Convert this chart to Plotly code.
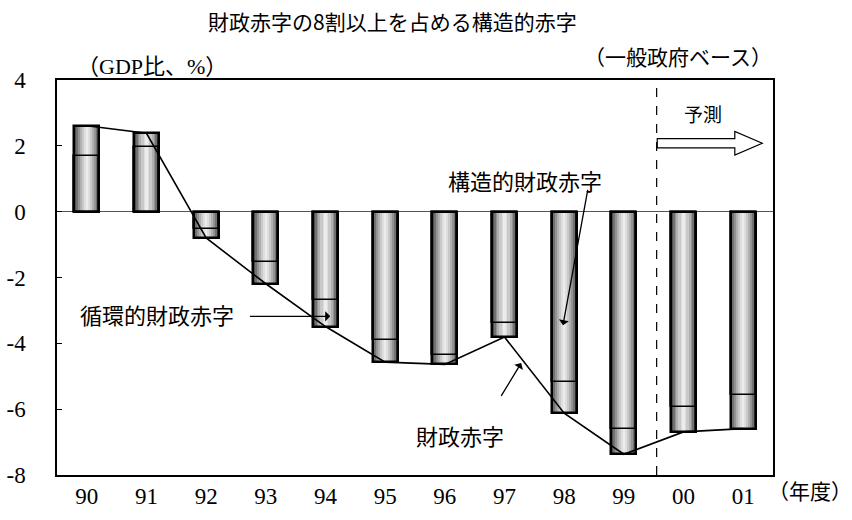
import plotly.graph_objects as go

years = ["90", "91", "92", "93", "94", "95", "96", "97", "98", "99", "00", "01"]
fiscal_balance = [2.61, 2.38, -0.80, -2.19, -3.49, -4.57, -4.64, -3.81, -6.12, -7.37, -6.69, -6.59]
structural = [1.69, 1.97, -0.54, -1.53, -2.67, -3.91, -4.36, -3.38, -5.17, -6.59, -5.93, -5.56]
cyclical = [round(t - s, 2) for t, s in zip(fiscal_balance, structural)]
y_ticks = [4, 2, 0, -2, -4, -6, -8]

xs = list(range(len(years)))
serif = "Liberation Serif, Noto Sans CJK JP"
cjk = "Noto Sans CJK JP"

fig = go.Figure()

# cylinder-like gradient layers
layers = [(0.42, "#4d4d4d"), (0.36, "#717171"), (0.30, "#939393"), (0.24, "#b0b0b0"),
          (0.17, "#c9c9c9"), (0.10, "#dedede"), (0.04, "#ececec")]
for w, c in layers:
    fig.add_trace(go.Bar(x=xs, y=fiscal_balance, base=0, width=w,
                         marker=dict(color=c, line=dict(width=0)),
                         hoverinfo="skip", showlegend=False))

# outline of total bar
fig.add_trace(go.Bar(x=xs, y=fiscal_balance, base=0, width=0.42,
                     marker=dict(color="rgba(0,0,0,0)", line=dict(color="black", width=2.5)),
                     hoverinfo="skip", showlegend=False))
# divider: structural part outline
fig.add_trace(go.Bar(x=xs, y=structural, base=0, width=0.42,
                     marker=dict(color="rgba(0,0,0,0)", line=dict(color="black", width=1.6)),
                     hoverinfo="skip", showlegend=False))
# cyclical part (on top of structural)
fig.add_trace(go.Bar(x=xs, y=cyclical, base=structural, width=0.42,
                     marker=dict(color="rgba(0,0,0,0)", line=dict(color="rgba(0,0,0,0)", width=0)),
                     hoverinfo="skip", showlegend=False))

# fiscal deficit line
fig.add_trace(go.Scatter(x=xs, y=fiscal_balance, mode="lines",
                         line=dict(color="black", width=1.6), hoverinfo="skip", showlegend=False))

fig.update_layout(
    width=852, height=520, barmode="overlay", bargap=0,
    margin=dict(l=57, r=79, t=80, b=45),
    paper_bgcolor="white", plot_bgcolor="white",
    xaxis=dict(range=[-0.5, 11.5], tickmode="array", tickvals=xs, ticktext=years,
               showgrid=False, zeroline=False, showline=True, mirror=True,
               linecolor="black", linewidth=1.5, ticks="", automargin=False,
               tickfont=dict(family=serif, size=23, color="black"), ticklabelstandoff=0),
    yaxis=dict(range=[-8, 4], tickmode="array", tickvals=y_ticks,
               ticktext=[str(v) for v in y_ticks], automargin=False,
               showgrid=False, zeroline=True, zerolinecolor="#555", zerolinewidth=1,
               showline=True, mirror=True, linecolor="black", linewidth=1.5,
               ticks="inside", ticklen=5, tickcolor="black",
               tickfont=dict(family=serif, size=23, color="black"), ticklabelstandoff=25),
)

# forecast divider
fig.add_shape(type="line", x0=9.55, x1=9.55, xref="x", y0=0, y1=1, yref="paper",
              line=dict(color="black", width=1.2, dash="dash"))
# hollow forecast arrow
x0, xb, xt, yc, hs, hh = 9.56, 10.86, 11.32, 2.08, 0.14, 0.36
path = (f"M {x0},{yc-hs} L {xb},{yc-hs} L {xb},{yc-hh} L {xt},{yc} L {xb},{yc+hh} "
        f"L {xb},{yc+hs} L {x0},{yc+hs} Z")
fig.add_shape(type="path", path=path, xref="x", yref="y",
              fillcolor="white", line=dict(color="black", width=1.2))

anns = [
    dict(text="財政赤字の8割以上を占める構造的赤字", x=0.469, y=1.15, xref="paper", yref="paper",
         font=dict(family=cjk, size=21, color="black")),
    dict(text="（GDP比、%）", x=0.133, y=1.033, xref="paper", yref="paper",
         font=dict(family=serif, size=22, color="black")),
    dict(text="（一般政府ベース）", x=0.867, y=1.056, xref="paper", yref="paper",
         font=dict(family=serif, size=21, color="black")),
    dict(text="（年度）", x=1.052, y=-0.044, xref="paper", yref="paper",
         font=dict(family=serif, size=21, color="black")),
    dict(text="予測", x=10.33, y=2.93, xref="x", yref="y",
         font=dict(family=serif, size=19, color="black")),
    dict(text="構造的財政赤字", x=7.34, y=0.90, xref="x", yref="y",
         font=dict(family=serif, size=22, color="black")),
    dict(text="循環的財政赤字", x=1.18, y=-3.18, xref="x", yref="y",
         font=dict(family=serif, size=22, color="black")),
    dict(text="財政赤字", x=6.26, y=-6.85, xref="x", yref="y",
         font=dict(family=serif, size=22, color="black")),
]
for a in anns:
    fig.add_annotation(showarrow=False, xanchor="center", yanchor="middle", **a)

arrows = [
    (7.98, -3.45, 8.40, 0.71),
    (4.08, -3.18, 2.71, -3.18),
    (7.28, -4.60, 6.93, -5.64),
]
for tx, ty, sx, sy in arrows:
    fig.add_annotation(x=tx, y=ty, ax=sx, ay=sy, xref="x", yref="y", axref="x", ayref="y",
                       text="", showarrow=True, arrowhead=1, arrowsize=1.3, arrowwidth=1.3,
                       arrowcolor="black")

fig.write_html("out.html")
